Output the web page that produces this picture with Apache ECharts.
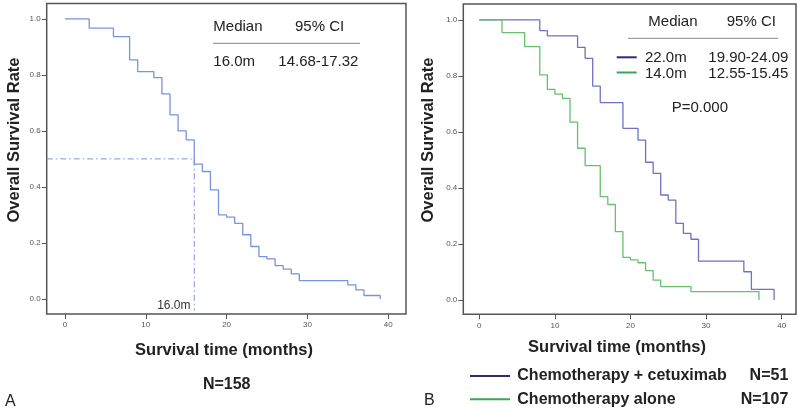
<!DOCTYPE html>
<html>
<head>
<meta charset="utf-8">
<script src="https://cdn.jsdelivr.net/npm/echarts@6/dist/echarts.min.js"></script>
<style>html,body{margin:0;padding:0;background:#fff}#c{width:800px;height:413px}</style>
</head>
<body>
<div id="c"></div>
<script>
// Panel A: all patients
var timesA = [0,3,6,8,9,11,12,13,14,15,16,17,18,19,20,21,22,23,24,25,26,27,28,29,35,36,37,39];
var survA  = [1.0,0.967,0.937,0.854,0.812,0.79,0.732,0.657,0.6,0.568,0.481,0.455,0.389,0.30,0.292,0.270,0.229,0.187,0.151,0.143,0.119,0.106,0.089,0.065,0.05,0.032,0.012,0.0];
var medianA = 16.0;
// Panel B: chemotherapy + cetuximab
var timesCet = [0,8,9,13,14,15,16,19,21,22,23,24,25,26,27,28,29,35,36,39];
var survCet  = [1,0.962,0.943,0.902,0.863,0.764,0.705,0.613,0.571,0.492,0.452,0.375,0.357,0.274,0.238,0.217,0.139,0.101,0.038,0];
// Panel B: chemotherapy alone
var timesAlone = [0,3,6,8,9,10,11,12,13,14,16,17,18,19,20,21,22,23,24,28,37];
var survAlone  = [1,0.955,0.905,0.804,0.752,0.735,0.72,0.635,0.542,0.48,0.369,0.341,0.244,0.152,0.143,0.133,0.105,0.071,0.048,0.030,0];
var xTicks = [0,10,20,30,40];
var yTicks = [0,0.2,0.4,0.6,0.8,1.0];

function pairs(t, s){ return t.map(function(v,i){ return [v, s[i]]; }); }

var FONT = 'Liberation Sans, Arial, sans-serif';
var cA = '#7b93dc', cCet = '#6e72c0', cAlone = '#66c06e';
var legCet = '#283070', legAlone = '#3aa655';

function xAxis(gi, min, max){
  return {type:'value', gridIndex:gi, min:min, max:max, position:'bottom',
    axisLine:{show:false, onZero:false}, splitLine:{show:false},
    axisTick:{show:true, inside:false, customValues:xTicks, length:5, lineStyle:{color:'#555', width:1}},
    axisLabel:{show:true, customValues:xTicks, fontSize:8, color:'#555', fontFamily:FONT, margin:7}};
}
function yAxis(gi, min, max){
  return {type:'value', gridIndex:gi, min:min, max:max, position:'left',
    axisLine:{show:false, onZero:false}, splitLine:{show:false},
    axisTick:{show:true, inside:false, customValues:yTicks, length:5, lineStyle:{color:'#555', width:1}},
    axisLabel:{show:true, customValues:yTicks, fontSize:8, color:'#555', fontFamily:FONT, margin:6,
      formatter:function(v){ return v.toFixed(1); }}};
}
function txt(x, y, s, opt){
  opt = opt || {};
  return {type:'text', x:x, y:y, rotation:opt.rot||0, silent:true,
    style:{text:s, font:(opt.bold?'bold ':'')+(opt.size||15)+'px '+FONT, fill:opt.color||'#222',
      textAlign:opt.align||'left', textVerticalAlign:'middle'}};
}
function ln(x1,y1,x2,y2,color,w){
  return {type:'line', silent:true, shape:{x1:x1,y1:y1,x2:x2,y2:y2}, style:{stroke:color, lineWidth:w||1}};
}

var xMinA = -2.26, xMaxA = 42.2, yMin = -0.054, yMax = 1.055;

var option = {
  animation:false,
  grid:[
    {left:46.7, top:3.5, width:359.3, height:310.5, show:true, borderColor:'#555', borderWidth:1.5, backgroundColor:'#fff'},
    {left:463.3, top:4, width:332.7, height:310.3, show:true, borderColor:'#555', borderWidth:1.5, backgroundColor:'#fff'}
  ],
  xAxis:[xAxis(0, xMinA, xMaxA), xAxis(1, -2.12, 41.9)],
  yAxis:[yAxis(0, yMin, yMax), yAxis(1, -0.051, 1.057)],
  series:[
    {type:'line', xAxisIndex:0, yAxisIndex:0, step:'end', data:pairs(timesA, survA), showSymbol:false,
      lineStyle:{color:cA, width:1.3}},
    {type:'line', xAxisIndex:0, yAxisIndex:0, data:[[xMinA,0.5],[medianA,0.5],[medianA,yMin+0.012]], showSymbol:false,
      lineStyle:{color:cA, width:1, type:[6,3,1.5,3]}},
    {type:'line', xAxisIndex:1, yAxisIndex:1, step:'end', data:pairs(timesCet, survCet), showSymbol:false,
      lineStyle:{color:cCet, width:1.3}},
    {type:'line', xAxisIndex:1, yAxisIndex:1, step:'end', data:pairs(timesAlone, survAlone), showSymbol:false,
      lineStyle:{color:cAlone, width:1.3}}
  ],
  graphic:[
    // axis titles
    txt(14.5, 140, 'Overall Survival Rate', {bold:true, size:16.5, rot:Math.PI/2, align:'center'}),
    txt(428, 140, 'Overall Survival Rate', {bold:true, size:16.5, rot:Math.PI/2, align:'center'}),
    txt(224, 350, 'Survival time (months)', {bold:true, size:16.5, align:'center'}),
    txt(617, 347, 'Survival time (months)', {bold:true, size:16.5, align:'center'}),
    txt(226.7, 385, 'N=158', {bold:true, size:16, align:'center'}),
    txt(5, 401.5, 'A', {size:16}),
    txt(424, 401, 'B', {size:16}),
    // panel A table
    txt(213.3, 26.5, 'Median', {size:15}),
    txt(295, 26.5, '95% CI', {size:15}),
    ln(213, 43.3, 360, 43.3, '#888', 1),
    txt(213.3, 61.7, '16.0m', {size:15}),
    txt(278.3, 61.7, '14.68-17.32', {size:15}),
    txt(190.5, 306, '16.0m', {size:12, align:'right', color:'#333'}),
    // panel B table
    txt(648.3, 22, 'Median', {size:15}),
    txt(726.7, 22, '95% CI', {size:15}),
    ln(628, 38.3, 778, 38.3, '#888', 1),
    ln(616.7, 57.3, 636.7, 57.3, legCet, 2),
    txt(645, 57.5, '22.0m', {size:15}),
    txt(708.3, 57.5, '19.90-24.09', {size:15}),
    ln(616.7, 72.5, 636.7, 72.5, legAlone, 2),
    txt(645, 73.5, '14.0m', {size:15}),
    txt(708.3, 73.5, '12.55-15.45', {size:15}),
    txt(671.7, 108.3, 'P=0.000', {size:15}),
    // panel B legend
    ln(470, 376, 510, 376, legCet, 2),
    txt(517.3, 376, 'Chemotherapy + cetuximab', {bold:true, size:16}),
    txt(788.3, 376, 'N=51', {bold:true, size:16, align:'right'}),
    ln(470, 399.3, 510, 399.3, legAlone, 2),
    txt(517.3, 399.3, 'Chemotherapy alone', {bold:true, size:16}),
    txt(788.3, 399.3, 'N=107', {bold:true, size:16, align:'right'})
  ]
};
var chart = echarts.init(document.getElementById('c'), null, {renderer:'canvas'});
chart.setOption(option);
</script>
</body>
</html>
